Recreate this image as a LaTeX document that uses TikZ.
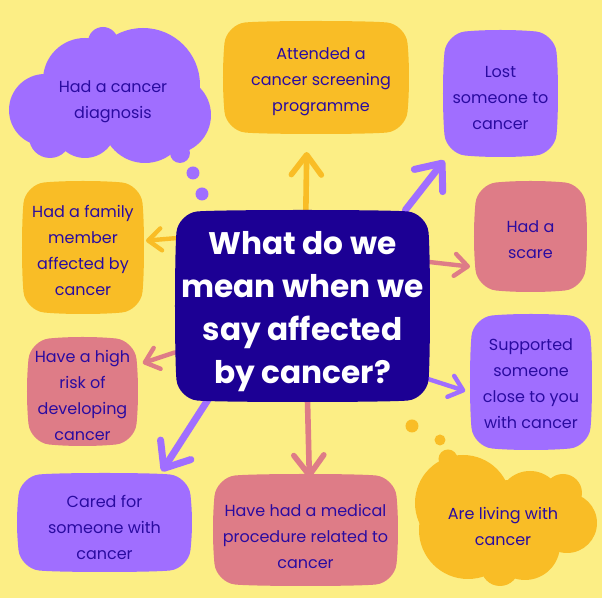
\documentclass[tikz,border=0pt]{standalone}
\usepackage{fontspec}
\setmainfont{Poppins}
\usetikzlibrary{arrows.meta,backgrounds}
\definecolor{paper}{HTML}{FCEE85}
\definecolor{navy}{HTML}{1C0094}
\definecolor{ink}{HTML}{2A0BA0}
\definecolor{violet}{HTML}{A06EFF}
\definecolor{gold}{HTML}{F9BD26}
\definecolor{rose}{HTML}{DE7C87}
\tikzset{
  label/.style={text=ink,align=center,inner sep=0pt,outer sep=0pt,font=\fontsize{8}{13}\selectfont},
  pointer/.style={line width=3.5pt,line cap=round,line join=round,-{Straight Barb[round,line width=3.5pt,length=11pt,width=18pt]}},
  midpointer/.style={line width=2.8pt,line cap=round,line join=round,-{Straight Barb[round,line width=2.8pt,length=10pt,width=15pt]}},
  smallpointer/.style={line width=2.2pt,line cap=round,line join=round,-{Straight Barb[round,line width=2.2pt,length=6.5pt,width=11pt]}}
}
% text shift, name, x0, y0, x1, y1, colour, text
\newcommand{\blobbox}[8][yshift=-2pt]{
  \fill[#7] (#3+22,#4+1.5) .. controls (#3+42,#4-0.5) and (#5-42,#4-0.5) .. (#5-22,#4+1.5)
    .. controls (#5-12,#4+2.5) and (#5-2.5,#4+12) .. (#5-1.5,#4+22)
    .. controls (#5+0.5,#4+42) and (#5+0.5,#6-42) .. (#5-1.5,#6-22)
    .. controls (#5-2.5,#6-12) and (#5-12,#6-2.5) .. (#5-22,#6-1.5)
    .. controls (#5-42,#6+0.5) and (#3+42,#6+0.5) .. (#3+22,#6-1.5)
    .. controls (#3+12,#6-2.5) and (#3+2.5,#6-12) .. (#3+1.5,#6-22)
    .. controls (#3-0.5,#6-42) and (#3-0.5,#4+42) .. (#3+1.5,#4+22)
    .. controls (#3+2.5,#4+12) and (#3+12,#4+2.5) .. cycle;
  \node[label,#1,minimum width={0.5pt*(#5-#3)},minimum height={0.5pt*(#6-#4)}] (#2) at ({(#3+#5)/2},{(#4+#6)/2}) {#8};
}
\begin{document}
\begin{tikzpicture}[x=0.5pt,y=-0.5pt]
\useasboundingbox (0,0) rectangle (602,598);
% cloud top left
\fill[violet] (143,85) circle (57);
\fill[violet] (45,110) circle (36);
\fill[violet] (85,80) circle (42);
\fill[violet] (103,42) circle (15);
\fill[violet] (172,115) circle (39);
\fill[violet] (145,120) circle (43);
\fill[violet] (50,137) circle (21);
\fill[violet] (85,127) circle (31);
\fill[violet] (180,153) circle (10);
\fill[violet] (193,173) circle (6.5);
\fill[violet] (202,194) circle (6.5);
\node[label,yshift=-0.5pt] (diagnosis) at (113,101) {Had a cancer\\diagnosis};
% cloud bottom right
\fill[gold] (463,503) circle (48);
\fill[gold] (448,459) circle (9.5);
\fill[gold] (530,503) circle (32);
\fill[gold] (563,493) circle (19);
\fill[gold] (567,523) circle (30);
\fill[gold] (525,545) circle (35);
\fill[gold] (500,567) circle (19);
\fill[gold] (468,530) circle (49);
\fill[gold] (510,520) circle (40);
\fill[gold] (412,426) circle (6.5);
\fill[gold] (440,440) circle (5.5);
\node[label] (living) at (503,526) {Are living with\\cancer};
% boxes
\blobbox[xshift=2.5pt,yshift=-2pt]{screening}{223}{21}{409}{134}{gold}{Attended a\\cancer screening\\programme}
\blobbox[yshift=-2.5pt]{lost}{443}{30}{558}{157}{violet}{Lost\\someone to\\cancer}
\blobbox[yshift=-1.5pt]{scare}{474}{181}{587}{292}{rose}{Had a\\scare}
\blobbox[yshift=-1pt]{supported}{470}{314}{592}{450}{violet}{Supported\\someone\\close to you\\with cancer}
\blobbox[yshift=-3pt]{procedure}{213}{474}{398}{586}{rose}{Have had a medical\\procedure related to\\cancer}
\blobbox[yshift=-2.5pt]{cared}{17}{473}{192}{572}{violet}{Cared for\\someone with\\cancer}
\blobbox{risk}{27}{337}{138}{446}{rose}{Have a high\\risk of\\developing\\cancer}
\blobbox[yshift=-1.5pt]{family}{22}{181}{144}{314}{gold}{Had a family\\member\\affected by\\cancer}
\blobbox[]{main}{175}{210}{430}{402}{navy}{}
\node[text=white,align=center,yshift=-3pt,font=\fontsize{15.6}{21.5}\selectfont\bfseries] (question) at (main) {What do we\\mean when we\\say affected\\by cancer?};
\begin{scope}[on background layer]
\fill[paper] (0,0) rectangle (602,598);
\draw[midpointer,gold,shorten >=7pt] (main.88) -- (screening.256);
\draw[pointer,violet,shorten >=-1pt] (main.43) -- (lost.south west);
\draw[smallpointer,rose,shorten >=2pt] (main.19) -- (scare.206);
\draw[smallpointer,violet,shorten <=-4pt,shorten >=2.5pt] (main.-30) -- (supported.188);
\draw[midpointer,rose,shorten >=1pt] (main.-87) -- (procedure.86);
\draw[pointer,violet,shorten >=4pt,shorten <=-2pt] (main.-135) -- (cared.43);
\draw[smallpointer,rose,shorten >=2.5pt] (main.-160) -- (risk.29);
\draw[smallpointer,gold,shorten >=1pt] (main.152) -- (family.9);
\end{scope}
\end{tikzpicture}
\end{document}
